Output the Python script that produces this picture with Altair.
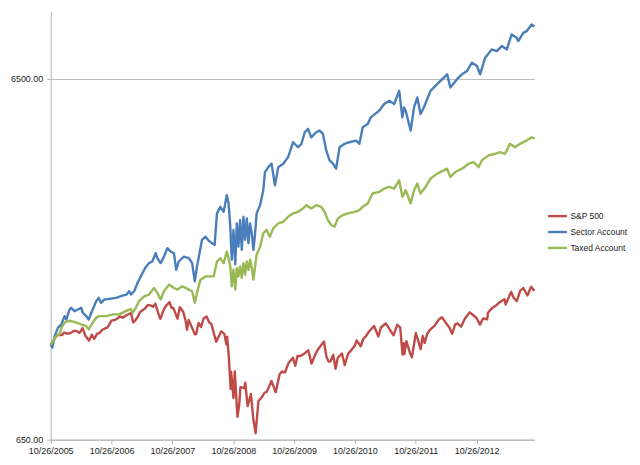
import altair as alt
import pandas as pd

series_names = ["S&P 500", "Sector Account", "Taxed Account"]
series_colors = ["#BE4B48", "#4A7EBB", "#98B954"]
x_tick_dates = [(2005, 10, 26), (2006, 10, 26), (2007, 10, 26), (2008, 10, 26),
                (2009, 10, 26), (2010, 10, 26), (2011, 10, 26), (2012, 10, 26)]
y_ticks = [650, 6500]

sp_dates = [
    "2005-10-26", "2005-11-15", "2005-12-01", "2005-12-15",
    "2006-01-03", "2006-01-13", "2006-02-01", "2006-02-15", "2006-03-01", "2006-03-15", "2006-04-03", "2006-04-17",
    "2006-05-05", "2006-05-22", "2006-06-13", "2006-06-30", "2006-07-14", "2006-07-31", "2006-08-15", "2006-09-01",
    "2006-09-15", "2006-10-02", "2006-10-26", "2006-11-15", "2006-12-01", "2006-12-15",
    "2007-01-02", "2007-01-16", "2007-02-01", "2007-02-20", "2007-03-05", "2007-03-15", "2007-04-02", "2007-04-16",
    "2007-05-01", "2007-05-15", "2007-06-01", "2007-06-15", "2007-07-02", "2007-07-16", "2007-08-01", "2007-08-15",
    "2007-09-04", "2007-09-19", "2007-10-09", "2007-10-22", "2007-11-01", "2007-11-26", "2007-12-10", "2007-12-31",
    "2008-01-15", "2008-01-22", "2008-02-01", "2008-02-15", "2008-03-10", "2008-03-17", "2008-04-01", "2008-04-15",
    "2008-05-01", "2008-05-19", "2008-06-02", "2008-06-16", "2008-07-01", "2008-07-15", "2008-08-01", "2008-08-15",
    "2008-09-02", "2008-09-15", "2008-09-19", "2008-09-29", "2008-10-10", "2008-10-13", "2008-10-27", "2008-11-04",
    "2008-11-20", "2008-12-01", "2008-12-08", "2008-12-31",
    "2009-01-06", "2009-01-20", "2009-02-09", "2009-02-23", "2009-03-09", "2009-03-26", "2009-04-15", "2009-05-01",
    "2009-05-15", "2009-06-12", "2009-07-08", "2009-07-31", "2009-08-14", "2009-09-01", "2009-09-23", "2009-10-19",
    "2009-11-02", "2009-11-16", "2009-12-01", "2009-12-28",
    "2010-01-19", "2010-02-08", "2010-03-01", "2010-03-15", "2010-04-23", "2010-05-07", "2010-05-20", "2010-06-01",
    "2010-06-18", "2010-07-02", "2010-07-15", "2010-08-09", "2010-08-26", "2010-09-15", "2010-10-01", "2010-10-26",
    "2010-11-05", "2010-11-30", "2010-12-15", "2010-12-31",
    "2011-01-18", "2011-02-18", "2011-03-16", "2011-04-01", "2011-04-29", "2011-05-16", "2011-06-15", "2011-07-07",
    "2011-07-25", "2011-08-08", "2011-08-15", "2011-08-19", "2011-08-31", "2011-09-22", "2011-10-03", "2011-10-27",
    "2011-11-25", "2011-12-07", "2011-12-19",
    "2012-01-03", "2012-01-18", "2012-02-15", "2012-03-15", "2012-04-02", "2012-04-20", "2012-05-15", "2012-06-01",
    "2012-06-19", "2012-07-02", "2012-07-25", "2012-08-15", "2012-09-14", "2012-10-01", "2012-10-26", "2012-11-15",
    "2012-12-03", "2012-12-28",
    "2013-01-02", "2013-01-25", "2013-02-19", "2013-03-14", "2013-04-11", "2013-04-18", "2013-05-21", "2013-06-05",
    "2013-06-24", "2013-07-15", "2013-08-02", "2013-08-27", "2013-09-18", "2013-10-01", "2013-10-08",
]
sp_values = [
    1190, 1230, 1265, 1270,
    1268, 1287, 1280, 1280, 1291, 1303, 1297, 1285,
    1325, 1262, 1223, 1270, 1236, 1277, 1285, 1311,
    1321, 1331, 1389, 1396, 1409, 1427,
    1416, 1431, 1445, 1459, 1374, 1387, 1424, 1468,
    1486, 1501, 1536, 1532, 1519, 1549, 1465, 1406,
    1489, 1529, 1565, 1506, 1508, 1407, 1515, 1468,
    1380, 1310, 1395, 1349, 1273, 1276, 1370, 1334,
    1409, 1426, 1377, 1360, 1284, 1214, 1260, 1298,
    1277, 1193, 1255, 1106, 899, 1003, 848, 1005,
    752, 816, 909, 903,
    935, 805, 870, 743, 677, 832, 852, 877,
    882, 946, 880, 987, 1004, 998, 1061, 1097,
    1042, 1110, 1108, 1127,
    1150, 1056, 1116, 1150, 1217, 1110, 1071, 1070,
    1117, 1022, 1096, 1127, 1047, 1125, 1146, 1185,
    1225, 1180, 1236, 1258,
    1295, 1343, 1256, 1332, 1364, 1329, 1265, 1353,
    1331, 1119, 1204, 1123, 1219, 1129, 1099, 1284,
    1159, 1261, 1205,
    1277, 1308, 1343, 1403, 1419, 1378, 1330, 1278,
    1357, 1365, 1338, 1405, 1465, 1445, 1411, 1353,
    1409, 1402,
    1462, 1503, 1530, 1563, 1593, 1541, 1669, 1608,
    1573, 1682, 1710, 1631, 1725, 1695, 1680,
]

sector_dates = [
    "2005-10-26", "2005-11-05", "2005-11-19", "2005-12-09", "2005-12-29",
    "2006-01-17", "2006-01-28", "2006-02-16", "2006-02-26", "2006-03-18", "2006-04-07", "2006-04-27", "2006-05-07",
    "2006-05-27", "2006-06-11", "2006-07-05", "2006-07-26", "2006-08-10", "2006-08-24", "2006-09-13", "2006-10-13",
    "2006-11-22", "2006-12-31",
    "2007-01-24", "2007-02-09", "2007-02-19", "2007-03-11", "2007-03-31", "2007-04-20", "2007-05-16", "2007-06-08",
    "2007-06-28", "2007-07-18", "2007-07-28", "2007-08-17", "2007-09-06", "2007-09-26", "2007-10-16", "2007-11-05",
    "2007-11-18", "2007-12-04",
    "2008-01-03", "2008-02-02", "2008-02-22", "2008-03-09", "2008-03-22", "2008-04-12", "2008-04-21", "2008-05-12",
    "2008-05-31", "2008-06-20", "2008-07-06", "2008-07-20", "2008-08-09", "2008-08-29", "2008-09-17", "2008-09-28",
    "2008-10-08", "2008-10-17", "2008-10-27", "2008-11-07", "2008-11-16", "2008-11-26", "2008-12-06", "2008-12-16",
    "2008-12-26",
    "2009-01-05", "2009-01-15", "2009-01-25", "2009-02-04", "2009-02-14", "2009-02-24", "2009-03-06", "2009-03-15",
    "2009-04-05", "2009-04-24", "2009-05-04", "2009-05-24", "2009-06-13", "2009-07-03", "2009-07-23", "2009-08-22",
    "2009-09-20", "2009-10-20", "2009-11-19", "2009-12-09", "2009-12-29",
    "2010-01-18", "2010-02-06", "2010-03-08", "2010-03-28", "2010-04-17", "2010-05-07", "2010-05-27", "2010-06-16",
    "2010-07-05", "2010-07-26", "2010-08-25", "2010-09-23", "2010-11-02", "2010-11-22", "2010-12-12",
    "2011-01-11", "2011-01-30", "2011-03-21", "2011-04-20", "2011-05-20", "2011-06-19", "2011-07-19", "2011-08-07",
    "2011-08-17", "2011-08-27", "2011-09-26", "2011-10-16", "2011-11-05", "2011-11-24", "2011-12-14",
    "2012-01-23", "2012-03-03", "2012-04-12", "2012-05-02", "2012-05-21", "2012-06-30", "2012-07-30", "2012-08-29",
    "2012-09-28", "2012-10-28", "2012-11-16", "2012-12-16",
    "2013-01-25", "2013-02-24", "2013-03-26", "2013-04-25", "2013-05-24", "2013-06-23", "2013-07-03", "2013-08-02",
    "2013-08-22", "2013-09-21", "2013-10-08",
]
sector_values = [
    1190, 1170, 1260, 1329, 1357,
    1430, 1400, 1492, 1508, 1476, 1492, 1508, 1461,
    1430, 1400, 1492, 1573, 1607, 1557, 1590, 1597,
    1607, 1630,
    1641, 1676, 1641, 1676, 1767, 1843, 1944, 2006,
    2027, 2137, 2070, 2006, 2091, 2207, 2159, 2137,
    1923, 2027,
    2091, 2070, 2006, 1786, 1963, 2207, 2327, 2375,
    2316, 2278, 2253, 2756, 2873, 2783, 3095, 2935,
    2531, 2049, 2479, 1990, 2586, 2229, 2640, 2183,
    2696,
    2327, 2669, 2278, 2586, 2427, 2183, 2427, 2756,
    2904, 3194, 3587, 3702, 3784, 3297, 3702, 3784,
    3946, 4339, 4203, 4295, 4624,
    4725, 4478, 4624, 4674, 4577, 4118, 3864, 3784,
    3665, 4203, 4295, 4339, 4386, 4295, 4773,
    4877, 5086, 5307, 5537, 5654, 5537, 6024, 5086,
    5418, 5307, 4674, 5418, 5773, 5195, 5418,
    6024, 6286, 6554, 6695, 6152, 6488, 6695, 6840,
    7209, 7058, 6695, 7442,
    7846, 7760, 8015, 7846, 8633, 8450, 8273, 8719,
    8815, 9196, 9100,
]

taxed_dates = [
    "2005-10-26", "2005-11-09", "2005-11-29", "2005-12-18", "2005-12-29",
    "2006-01-17", "2006-02-06", "2006-02-26", "2006-03-28", "2006-04-27", "2006-05-27", "2006-06-11", "2006-07-05",
    "2006-07-26", "2006-08-14", "2006-09-23", "2006-11-02", "2006-12-11",
    "2007-01-20", "2007-02-19", "2007-03-01", "2007-03-21", "2007-04-09", "2007-05-10", "2007-06-08", "2007-07-08",
    "2007-07-28", "2007-08-17", "2007-09-06", "2007-10-06", "2007-11-05", "2007-11-25", "2007-12-25",
    "2008-02-02", "2008-02-22", "2008-03-09", "2008-03-22", "2008-04-12", "2008-05-12", "2008-05-31", "2008-06-30",
    "2008-07-20", "2008-08-09", "2008-08-29", "2008-09-17", "2008-09-28", "2008-10-08", "2008-10-17", "2008-10-27",
    "2008-11-07", "2008-11-16", "2008-11-26", "2008-12-06", "2008-12-16", "2008-12-26",
    "2009-01-05", "2009-01-15", "2009-01-25", "2009-02-04", "2009-02-14", "2009-02-24", "2009-03-06", "2009-03-15",
    "2009-04-05", "2009-04-24", "2009-05-14", "2009-06-03", "2009-06-23", "2009-07-23", "2009-08-22", "2009-09-20",
    "2009-10-20", "2009-11-19", "2009-12-19",
    "2010-01-08", "2010-02-06", "2010-03-08", "2010-04-07", "2010-04-27", "2010-05-17", "2010-06-06", "2010-06-26",
    "2010-07-16", "2010-08-15", "2010-09-14", "2010-10-24", "2010-11-22", "2010-12-12",
    "2011-01-11", "2011-02-09", "2011-03-21", "2011-04-20", "2011-05-20", "2011-06-19", "2011-07-19", "2011-08-07",
    "2011-08-27", "2011-09-26", "2011-10-16", "2011-11-05", "2011-11-24", "2011-12-24",
    "2012-01-23", "2012-03-03", "2012-04-12", "2012-05-02", "2012-05-21", "2012-06-20", "2012-07-30", "2012-09-08",
    "2012-10-08", "2012-11-07", "2012-11-26",
    "2013-01-05", "2013-02-14", "2013-03-16", "2013-04-14", "2013-05-14", "2013-06-13", "2013-07-13", "2013-08-22",
    "2013-09-21", "2013-10-08",
]
taxed_values = [
    1190, 1220, 1260, 1274, 1329,
    1372, 1386, 1386, 1372, 1357, 1342, 1314, 1372,
    1416, 1430, 1430, 1446, 1446,
    1476, 1498, 1461, 1508, 1573, 1623, 1641, 1712,
    1659, 1590, 1676, 1749, 1712, 1694, 1730,
    1694, 1676, 1557, 1659, 1805, 1843, 1843, 1843,
    2027, 2070, 2006, 2159, 2070, 1963, 1730, 1923,
    1694, 1944, 1843, 1963, 1825, 2006,
    1864, 2027, 1923, 2049, 1944, 1805, 1963, 2115,
    2229, 2427, 2479, 2375, 2506, 2586, 2612, 2696,
    2756, 2783, 2844,
    2904, 2844, 2904, 2873, 2783, 2640, 2558, 2531,
    2669, 2726, 2756, 2783, 2813, 2873,
    2935, 3128, 3160, 3229, 3262, 3229, 3403, 3062,
    3194, 2935, 3194, 3332, 3128, 3262,
    3440, 3551, 3626, 3665, 3476, 3587, 3665, 3784,
    3822, 3702, 3864,
    3989, 4031, 4073, 4031, 4295, 4203, 4295, 4386,
    4478, 4435,
]

frames = []
for name, dates, values in [
    (series_names[0], sp_dates, sp_values),
    (series_names[1], sector_dates, sector_values),
    (series_names[2], taxed_dates, taxed_values),
]:
    frames.append(pd.DataFrame({"date": dates, "value": values, "series": name}))
df = pd.concat(frames, ignore_index=True)

font = "Liberation Sans"
tick_values = [alt.DateTime(year=y, month=m, date=d, utc=True) for (y, m, d) in x_tick_dates]

chart = alt.Chart(df).mark_line(strokeWidth=2.4, strokeJoin="round").encode(
    x=alt.X(
        "date:T",
        scale=alt.Scale(
            type="utc",
            domain=[alt.DateTime(year=2005, month=10, date=26, utc=True),
                    alt.DateTime(year=2013, month=10, date=9, utc=True)],
        ),
        axis=alt.Axis(
            values=tick_values, format="%m/%d/%Y", title=None, grid=False,
            labelOverlap=False, labelBound=False, labelFlush=False,
            domainColor="#B3B3B3", tickColor="#B3B3B3", tickSize=4,
            labelFont=font, labelFontSize=9, labelColor="#222222", labelPadding=3,
        ),
    ),
    y=alt.Y(
        "value:Q",
        scale=alt.Scale(type="log", domain=[650, 10000], nice=False),
        axis=alt.Axis(
            values=y_ticks, format=".2f", title=None, grid=True, gridColor="#BEBEBE",
            labelOverlap=False,
            domainColor="#B3B3B3", tickColor="#B3B3B3", tickSize=4,
            labelFont=font, labelFontSize=9, labelColor="#222222", labelPadding=4,
        ),
    ),
    color=alt.Color(
        "series:N",
        scale=alt.Scale(domain=series_names, range=series_colors),
        legend=alt.Legend(
            title=None, orient="none", legendX=499, legendY=195,
            symbolType="stroke", symbolStrokeWidth=2.4, symbolSize=361,
            labelFont=font, labelFontSize=8.5, labelColor="#222222",
            labelOffset=2, rowPadding=-1, labelLimit=200,
        ),
    ),
).properties(
    width=487, height=431,
    autosize=alt.AutoSizeParams(type="none"),
    padding={"left": 43, "top": 2, "right": 98, "bottom": 18},
).configure_view(stroke=None)

chart.save("out.html", embed_options={"renderer": "svg", "actions": False})
